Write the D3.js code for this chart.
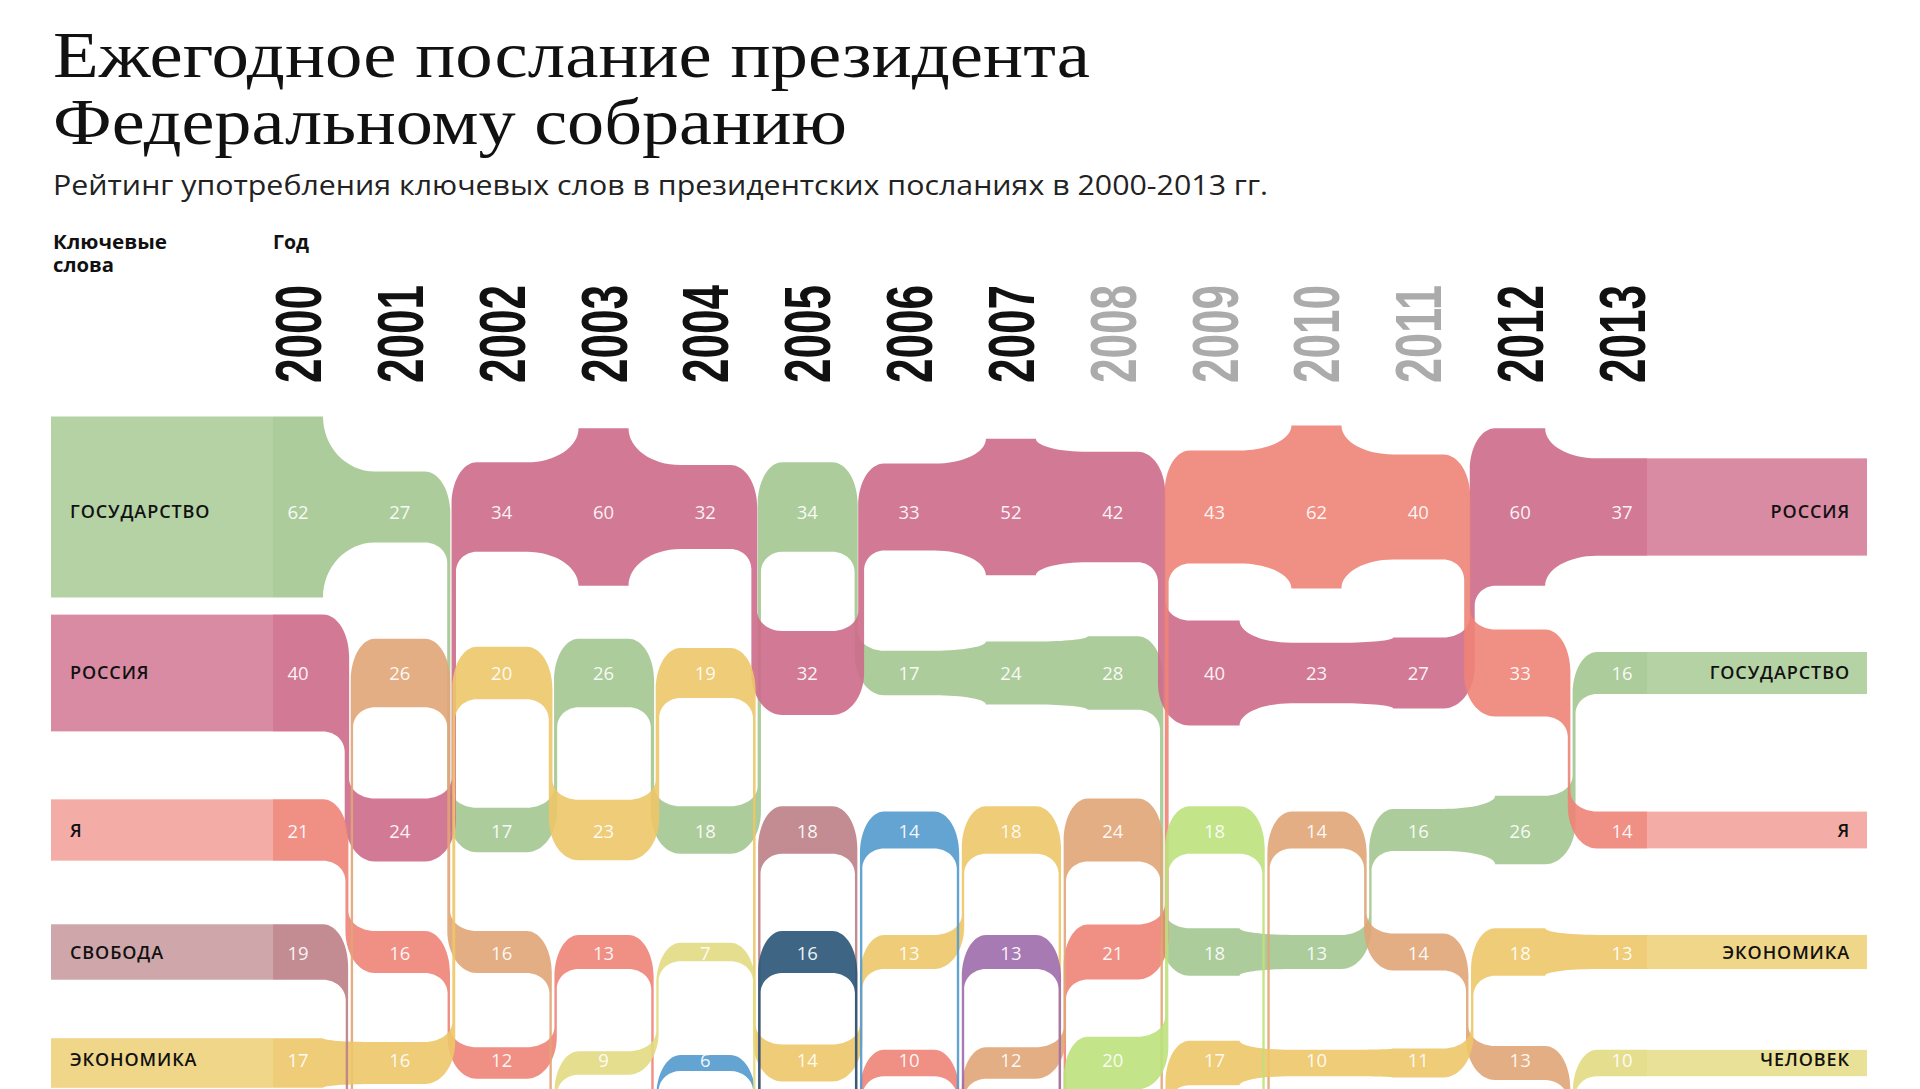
<!DOCTYPE html>
<html>
<head>
<meta charset="utf-8">
<script src="https://cdn.jsdelivr.net/npm/d3@7"></script>
<style>
  body { margin: 0; background: #fff; }
</style>
</head>
<body>
<svg id="chart" width="1920" height="1089"></svg>
<script>
// data: top-5 keywords per year (rank 1 at the top)
const years = [2000, 2001, 2002, 2003, 2004, 2005, 2006, 2007, 2008, 2009, 2010, 2011, 2012, 2013];
const mutedYears = [2008, 2009, 2010, 2011];

const rank1 = ["ГОСУДАРСТВО", "ГОСУДАРСТВО", "РОССИЯ", "РОССИЯ", "РОССИЯ", "ГОСУДАРСТВО", "РОССИЯ", "РОССИЯ", "РОССИЯ", "Я", "Я", "Я", "РОССИЯ", "РОССИЯ"];
const rank1Values = [62, 27, 34, 60, 32, 34, 33, 52, 42, 43, 62, 40, 60, 37];

const rank2 = ["РОССИЯ", "tan", "ЭКОНОМИКА", "ГОСУДАРСТВО", "ЭКОНОМИКА", "РОССИЯ", "ГОСУДАРСТВО", "ГОСУДАРСТВО", "ГОСУДАРСТВО", "РОССИЯ", "РОССИЯ", "РОССИЯ", "Я", "ГОСУДАРСТВО"];
const rank2Values = [40, 26, 20, 26, 19, 32, 17, 24, 28, 40, 23, 27, 33, 16];

const rank3 = ["Я", "РОССИЯ", "ГОСУДАРСТВО", "ЭКОНОМИКА", "ГОСУДАРСТВО", "СВОБОДА", "blue", "ЭКОНОМИКА", "tan", "lime", "tan", "ГОСУДАРСТВО", "ГОСУДАРСТВО", "Я"];
const rank3Values = [21, 24, 17, 23, 18, 18, 14, 18, 24, 18, 14, 16, 26, 14];

const rank4 = ["СВОБОДА", "Я", "tan", "Я", "ЧЕЛОВЕК", "navy", "ЭКОНОМИКА", "purple", "Я", "ГОСУДАРСТВО", "ГОСУДАРСТВО", "tan", "ЭКОНОМИКА", "ЭКОНОМИКА"];
const rank4Values = [19, 16, 16, 13, 7, 16, 13, 13, 21, 18, 13, 14, 18, 13];

const rank5 = ["ЭКОНОМИКА", "ЭКОНОМИКА", "Я", "ЧЕЛОВЕК", "blue", "ЭКОНОМИКА", "Я", "tan", "lime", "ЭКОНОМИКА", "ЭКОНОМИКА", "ЭКОНОМИКА", "tan", "ЧЕЛОВЕК"];
const rank5Values = [17, 16, 12, 9, 6, 14, 10, 12, 20, 17, 10, 11, 13, 10];

const rankWords = [rank1, rank2, rank3, rank4, rank5];
const rankValues = [rank1Values, rank2Values, rank3Values, rank4Values, rank5Values];

// styles
const palette = {
  "ГОСУДАРСТВО": { cell: "#adcd9c", label: "#b4d2a4" },
  "РОССИЯ":      { cell: "#d27a95", label: "#d98ba3" },
  "Я":           { cell: "#f08f85", label: "#f4aca6" },
  "СВОБОДА":     { cell: "#c28d92", label: "#cfa7ab" },
  "ЭКОНОМИКА":   { cell: "#efcd77", label: "#f0d688" },
  "ЧЕЛОВЕК":     { cell: "#e5de8f", label: "#e8e197" },
  "tan":         { cell: "#e3ae85" },
  "blue":        { cell: "#64a4d3" },
  "navy":        { cell: "#3e6685" },
  "purple":      { cell: "#a87bb4" },
  "lime":        { cell: "#c4e489" }
};
const alpha = 0.9;
function baseColor(hex) {
  const c = d3.rgb(hex);
  const f = v => Math.max(0, Math.round((v - 255 * (1 - alpha)) / alpha));
  return d3.rgb(f(c.r), f(c.g), f(c.b)).formatHex();
}

const svg = d3.select("#chart");

// layout
const x = d3.scalePoint().domain(years).range([298, 1622]);
const rowY = d3.scaleOrdinal().domain([0, 1, 2, 3, 4]).range([507, 673, 830, 952, 1063]);
const textY = d3.scaleOrdinal().domain([0, 1, 2, 3, 4]).range([512, 673, 831, 953, 1060]);
const thick = d3.scaleLinear().domain([0, 62]).range([0, 163]);
const thickFirst = d3.scaleLinear().domain([0, 62]).range([0, 181]);
const hw = 25;          // half width of a year cell
const OFF = { y: 1400, t: 20 };  // lower ranks, below the picture
const Ro = 42, Ri = 20; // corner radii of row changes

// ---- headers
svg.append("text")
  .attr("x", 53).attr("y", 77)
  .attr("font-family", "Liberation Serif, serif")
  .attr("font-size", 66)
  .attr("textLength", 1037).attr("lengthAdjust", "spacingAndGlyphs")
  .attr("fill", "#111")
  .text("Ежегодное послание президента");
svg.append("text")
  .attr("x", 53).attr("y", 144)
  .attr("font-family", "Liberation Serif, serif")
  .attr("font-size", 66)
  .attr("textLength", 794).attr("lengthAdjust", "spacingAndGlyphs")
  .attr("fill", "#111")
  .text("Федеральному собранию");
svg.append("text")
  .attr("x", 53).attr("y", 195)
  .attr("font-family", "Open Sans, sans-serif")
  .attr("font-size", 27)
  .attr("textLength", 1215).attr("lengthAdjust", "spacingAndGlyphs")
  .attr("fill", "#222")
  .text("Рейтинг употребления ключевых слов в президентских посланиях в 2000-2013 гг.");

const small = [["Ключевые", 53, 249, 114], ["слова", 53, 272, 61], ["Год", 273, 249, 36]];
small.forEach(([t, tx, ty, len]) => {
  svg.append("text")
    .attr("x", tx).attr("y", ty)
    .attr("font-family", "Open Sans, sans-serif")
    .attr("font-weight", 700)
    .attr("font-size", 19)
    .attr("textLength", len).attr("lengthAdjust", "spacingAndGlyphs")
    .attr("fill", "#111")
    .text(t);
});

svg.append("g").selectAll("text")
  .data(years)
  .join("text")
  .attr("transform", d => `translate(${x(d) + 23},383) rotate(-90)`)
  .attr("font-family", "Liberation Sans Narrow, Liberation Sans, sans-serif")
  .attr("font-weight", 700)
  .attr("font-size", 64)
  .attr("textLength", 98).attr("lengthAdjust", "spacingAndGlyphs")
  .attr("fill", d => mutedYears.includes(d) ? "#ababab" : "#111")
  .text(d => d);

// ---- ribbons
const words = Array.from(new Set(rankWords.flat()));

function positions(w) {
  return years.map((yr, i) => {
    for (let r = 0; r < 5; r++) {
      if (rankWords[r][i] === w) {
        const v = rankValues[r][i];
        return { row: r, y: rowY(r), t: (i === 0 ? thickFirst : thick)(v) };
      }
    }
    return { row: -1, y: OFF.y, t: OFF.t };
  });
}

// segments are cubic [p0, c1, c2, p1]
function lineSeg(p0, p1) { return [p0, p0, p1, p1]; }
function corner(p0, p1, startHorizontal) {
  const k = 0.552;
  if (startHorizontal)
    return [p0, [p0[0] + k * (p1[0] - p0[0]), p0[1]], [p1[0], p1[1] - k * (p1[1] - p0[1])], p1];
  return [p0, [p0[0], p0[1] + k * (p1[1] - p0[1])], [p1[0] - k * (p1[0] - p0[0]), p1[1]], p1];
}
function fillet(x0, y0, x1, y1, leftBigger) {
  if (Math.abs(y1 - y0) < 0.5) return [lineSeg([x0, y0], [x1, y1])];
  return [corner([x0, y0], [x1, y1], !leftBigger)];
}
function step(x0, y0, x1, y1, xv, r1, r2) {
  const dy = Math.abs(y1 - y0), s = Math.sign(y1 - y0);
  const f = Math.min(1, dy / (r1 + r2));
  const a = [xv, y0 + s * r1 * f], b = [xv, y1 - s * r2 * f];
  return [corner([x0, y0], a, true), lineSeg(a, b), corner(b, [x1, y1], false)];
}

function ribbonPath(pos) {
  const top = [], bot = [];
  pos.forEach((p, i) => {
    const xc = x(years[i]);
    const t0 = p.y - p.t / 2, b0 = p.y + p.t / 2;
    top.push(lineSeg([xc - hw, t0], [xc + hw, t0]));
    bot.push(lineSeg([xc - hw, b0], [xc + hw, b0]));
    if (i === pos.length - 1) return;
    const q = pos[i + 1];
    const x0 = xc + hw, x1 = x(years[i + 1]) - hw;
    const t1 = q.y - q.t / 2, b1 = q.y + q.t / 2;
    if (p.row === q.row) {
      const lb = p.t > q.t;
      top.push(...fillet(x0, t0, x1, t1, lb));
      bot.push(...fillet(x0, b0, x1, b1, lb));
    } else {
      const down = q.y > p.y;
      const hv = Math.max(1.2, Math.min(p.t, q.t) * 0.035);
      const xm = (x0 + x1) / 2 + (down ? -2 : 3);
      if (down) {
        top.push(...step(x0, t0, x1, t1, xm + hv, Ro, Ri));
        bot.push(...step(x0, b0, x1, b1, xm - hv, Ri, Ro));
      } else {
        top.push(...step(x0, t0, x1, t1, xm - hv, Ri, Ro));
        bot.push(...step(x0, b0, x1, b1, xm + hv, Ro, Ri));
      }
    }
  });
  const pt = p => p[0].toFixed(2) + "," + p[1].toFixed(2);
  let d = "M" + pt(top[0][0]);
  top.forEach(s => { d += "C" + pt(s[1]) + " " + pt(s[2]) + " " + pt(s[3]); });
  const rev = bot.slice().reverse().map(s => [s[3], s[2], s[1], s[0]]);
  d += "L" + pt(rev[0][0]);
  rev.forEach(s => { d += "C" + pt(s[1]) + " " + pt(s[2]) + " " + pt(s[3]); });
  return d + "Z";
}

svg.append("g").selectAll("path")
  .data(words)
  .join("path")
  .attr("d", w => ribbonPath(positions(w)))
  .attr("fill", w => baseColor(palette[w].cell))
  .attr("fill-opacity", alpha);

// ---- label blocks at both ends
const labelG = svg.append("g");
const last = years.length - 1;
rankWords.forEach((ws, r) => {
  const wFirst = ws[0], tFirst = thickFirst(rankValues[r][0]);
  labelG.append("rect")
    .attr("x", 51).attr("y", rowY(r) - tFirst / 2)
    .attr("width", x(years[0]) - hw - 51).attr("height", tFirst)
    .attr("fill", palette[wFirst].label);
  labelG.append("text")
    .attr("x", 70).attr("y", textY(r)).attr("dy", "0.36em")
    .attr("font-family", "Open Sans, sans-serif")
    .attr("font-weight", 600).attr("font-size", 18)
    .attr("letter-spacing", 0.9)
    .attr("fill", "#111")
    .text(wFirst);

  const wLast = ws[last], tLast = thick(rankValues[r][last]);
  labelG.append("rect")
    .attr("x", x(years[last]) + hw).attr("y", rowY(r) - tLast / 2)
    .attr("width", 1867 - x(years[last]) - hw).attr("height", tLast)
    .attr("fill", palette[wLast].label);
  labelG.append("text")
    .attr("x", 1850).attr("y", textY(r)).attr("dy", "0.36em")
    .attr("text-anchor", "end")
    .attr("font-family", "Open Sans, sans-serif")
    .attr("font-weight", 600).attr("font-size", 18)
    .attr("letter-spacing", 0.9)
    .attr("fill", "#111")
    .text(wLast);
});

// ---- values
const cells = [];
rankValues.forEach((vals, r) => vals.forEach((v, i) => cells.push({ r, year: years[i], v })));
svg.append("g").selectAll("text")
  .data(cells)
  .join("text")
  .attr("x", d => x(d.year))
  .attr("y", d => textY(d.r))
  .attr("dy", "0.36em")
  .attr("text-anchor", "middle")
  .attr("font-family", "Open Sans, sans-serif")
  .attr("font-size", 18.5)
  .attr("fill", "#fff")
  .attr("fill-opacity", 0.92)
  .text(d => d.v);
</script>
</body>
</html>
